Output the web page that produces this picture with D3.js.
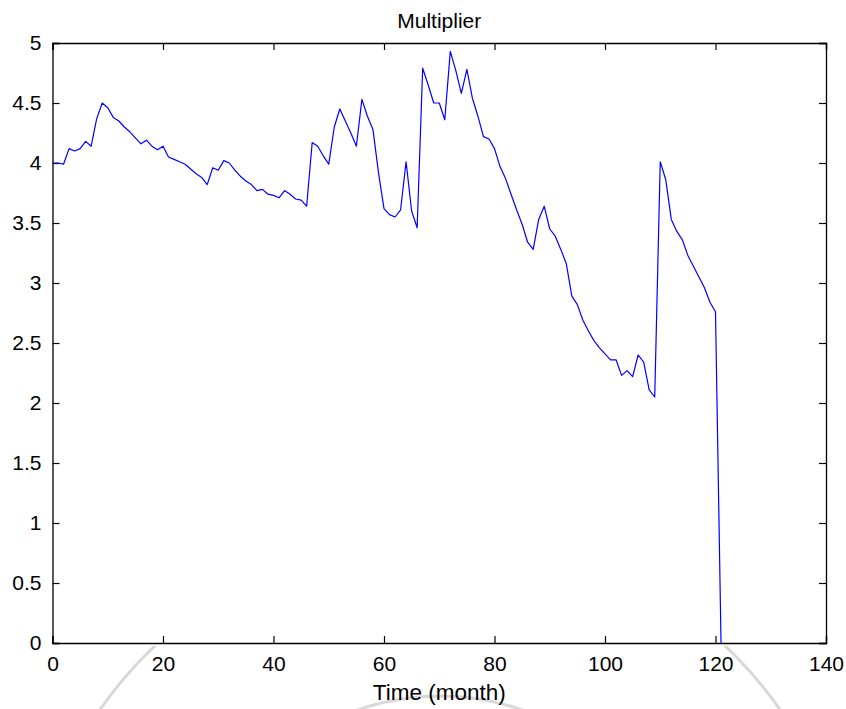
<!DOCTYPE html>
<html>
<head>
<meta charset="utf-8">
<script src="https://cdn.jsdelivr.net/npm/d3@7"></script>
<style>
  html, body { margin: 0; padding: 0; background: #fff; }
  svg { display: block; }
  text { font-family: "Liberation Sans", Arial, Helvetica, sans-serif; fill: #000; }
</style>
</head>
<body>
<svg id="chart" width="846" height="709"></svg>
<script>
// Monthly multiplier series (month index 0..121)
const months = d3.range(0, 122);
const multiplier = [
  4.00, 4.00, 3.99, 4.12, 4.10, 4.12, 4.18, 4.14, 4.37, 4.50,
  4.46, 4.38, 4.35, 4.30, 4.26, 4.21, 4.16, 4.19, 4.14, 4.11,
  4.14, 4.05, 4.03, 4.01, 3.99, 3.95, 3.91, 3.88, 3.82, 3.96,
  3.94, 4.02, 4.00, 3.94, 3.89, 3.85, 3.82, 3.77, 3.78, 3.74,
  3.73, 3.71, 3.77, 3.74, 3.70, 3.69, 3.64, 4.17, 4.14, 4.06,
  3.99, 4.30, 4.45, 4.35, 4.25, 4.14, 4.53, 4.39, 4.28, 3.92,
  3.62, 3.57, 3.55, 3.61, 4.01, 3.60, 3.46, 4.79, 4.65, 4.50,
  4.50, 4.36, 4.93, 4.77, 4.58, 4.78, 4.54, 4.39, 4.22, 4.20,
  4.12, 3.97, 3.87, 3.74, 3.61, 3.49, 3.34, 3.28, 3.53, 3.64,
  3.45, 3.39, 3.28, 3.16, 2.89, 2.82, 2.69, 2.60, 2.52, 2.46,
  2.41, 2.36, 2.36, 2.23, 2.27, 2.22, 2.40, 2.34, 2.11, 2.05,
  4.01, 3.86, 3.53, 3.43, 3.36, 3.23, 3.14, 3.05, 2.96, 2.84,
  2.76, 0.00
];

const xTicks = [0, 20, 40, 60, 80, 100, 120, 140];
const yTicks = [0, 0.5, 1, 1.5, 2, 2.5, 3, 3.5, 4, 4.5, 5];
const titleText = "Multiplier";
const xLabelText = "Time (month)";

const svg = d3.select("#chart");
const plotLeft = 52.5, plotRight = 826, plotTop = 43, plotBottom = 643;

const x = d3.scaleLinear().domain([0, 140]).range([plotLeft, plotRight]);
const y = d3.scaleLinear().domain([0, 5]).range([plotBottom, plotTop]);

// Faint seal rings in the strip below the axes
const clip = svg.append("defs").append("clipPath").attr("id", "belowAxes");
clip.append("rect").attr("x", 0).attr("y", plotBottom + 3).attr("width", 846).attr("height", 709 - plotBottom);
const seal = svg.append("g").attr("clip-path", "url(#belowAxes)");
const cx = 440, cy = 946;
seal.append("circle").attr("cx", cx).attr("cy", cy).attr("r", 414)
  .attr("fill", "none").attr("stroke", "#d8d8d8").attr("stroke-width", 3);
seal.append("circle").attr("cx", cx).attr("cy", cy).attr("r", 250)
  .attr("fill", "none").attr("stroke", "#d8d8d8").attr("stroke-width", 3);

// Box with inward ticks on all four sides
const tickLen = 7;
const axisColor = "#000";

const gx = svg.append("g").attr("transform", `translate(0,${plotBottom})`)
  .call(d3.axisBottom(x).tickValues(xTicks).tickSize(-tickLen).tickPadding(tickLen + 5).tickFormat(d3.format("d")));
const gxTop = svg.append("g").attr("transform", `translate(0,${plotTop})`)
  .call(d3.axisTop(x).tickValues(xTicks).tickSize(-tickLen).tickFormat(""));
const gy = svg.append("g").attr("transform", `translate(${plotLeft},0)`)
  .call(d3.axisLeft(y).tickValues(yTicks).tickSize(-tickLen).tickPadding(tickLen + 4).tickFormat(d3.format("")));
const gyRight = svg.append("g").attr("transform", `translate(${plotRight},0)`)
  .call(d3.axisRight(y).tickValues(yTicks).tickSize(-tickLen).tickFormat(""));

[gx, gxTop, gy, gyRight].forEach(g => {
  g.select(".domain").attr("stroke", axisColor).attr("stroke-width", 1.3);
  g.selectAll(".tick line").attr("stroke", axisColor).attr("stroke-width", 1.2);
  g.selectAll(".tick text")
    .style("font-family", "'Liberation Sans', Arial, sans-serif")
    .style("font-size", "21px")
    .attr("fill", "#000");
});
gx.selectAll(".tick text").attr("dy", "0.75em");

// Series line
const line = d3.line()
  .x((d, i) => x(months[i]))
  .y(d => y(d));
svg.append("path")
  .datum(multiplier)
  .attr("fill", "none")
  .attr("stroke", "#0000ff")
  .attr("stroke-width", 1.2)
  .attr("stroke-linejoin", "round")
  .attr("d", line);

// Title and axis label
svg.append("text")
  .attr("x", (plotLeft + plotRight) / 2)
  .attr("y", 28)
  .attr("text-anchor", "middle")
  .style("font-size", "21px")
  .text(titleText);

svg.append("text")
  .attr("x", (plotLeft + plotRight) / 2)
  .attr("y", 700)
  .attr("text-anchor", "middle")
  .style("font-size", "22.5px")
  .text(xLabelText);
</script>
</body>
</html>
